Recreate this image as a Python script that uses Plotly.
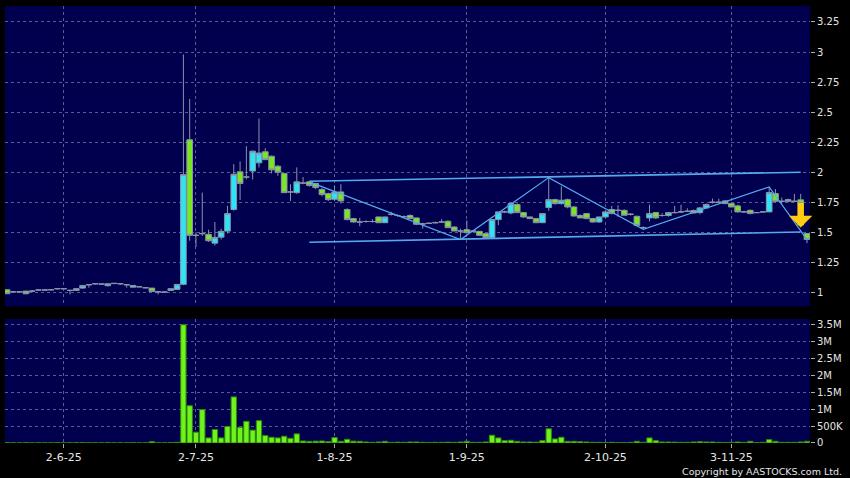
import pandas as pd
import plotly.graph_objects as go

# HK trading days (exchange holidays removed)
hk_holidays = ['2025-07-01', '2025-10-01', '2025-10-07', '2025-10-29']
dates = pd.bdate_range('2025-05-20', '2025-11-19', freq='C',
                       holidays=hk_holidays).strftime('%Y-%m-%d').tolist()

opens = [
    1.022, 1.005, 1.005, 1.011, 1.011, 1.02, 1.02, 1.022, 1.031, 1.031,
    1.017, 1.017, 1.036, 1.064, 1.072, 1.07, 1.056, 1.075, 1.072, 1.064,
    1.044, 1.047, 1.039, 1.036, 1.005, 1.003, 1.017, 1.025, 1.067, 2.27,
    1.475, 1.489, 1.483, 1.41, 1.46, 1.51, 1.69, 2.003, 1.96, 2.01,
    2.078, 2.17, 2.133, 2.05, 1.99, 1.836, 1.83, 1.91, 1.92, 1.906,
    1.856, 1.822, 1.775, 1.836, 1.69, 1.614, 1.586, 1.59, 1.59, 1.628,
    1.58, 1.65, 1.64, 1.63, 1.64, 1.62, 1.57, 1.575, 1.58, 1.586,
    1.592, 1.544, 1.511, 1.522, 1.51, 1.508, 1.489, 1.456, 1.606, 1.67,
    1.661, 1.731, 1.664, 1.628, 1.614, 1.58, 1.706, 1.772, 1.739, 1.772,
    1.711, 1.64, 1.656, 1.614, 1.586, 1.628, 1.69, 1.683, 1.683, 1.65,
    1.633, 1.54, 1.62, 1.664, 1.64, 1.64, 1.664, 1.67, 1.675, 1.681,
    1.664, 1.703, 1.75, 1.75, 1.761, 1.739, 1.72, 1.67, 1.683, 1.664,
    1.67, 1.67, 1.822, 1.758, 1.758, 1.758, 1.77, 1.49,
]
highs = [
    1.025, 1.008, 1.011, 1.011, 1.02, 1.022, 1.025, 1.025, 1.036, 1.036,
    1.022, 1.033, 1.058, 1.067, 1.075, 1.072, 1.075, 1.078, 1.075, 1.067,
    1.058, 1.05, 1.044, 1.036, 1.008, 1.008, 1.031, 1.067, 2.98, 2.61,
    1.5, 1.83, 1.522, 1.586, 1.53, 1.72, 2.067, 2.09, 2.217, 2.18,
    2.447, 2.2, 2.14, 2.06, 1.99, 1.9, 2.04, 1.96, 1.93, 1.91,
    1.87, 1.83, 1.89, 1.9, 1.7, 1.62, 1.62, 1.6, 1.61, 1.63,
    1.63, 1.67, 1.65, 1.64, 1.65, 1.62, 1.58, 1.58, 1.59, 1.61,
    1.6, 1.55, 1.53, 1.6, 1.52, 1.51, 1.49, 1.61, 1.67, 1.68,
    1.75, 1.74, 1.67, 1.63, 1.62, 1.66, 1.956, 1.78, 1.883, 1.78,
    1.72, 1.65, 1.66, 1.62, 1.63, 1.68, 1.72, 1.725, 1.69, 1.66,
    1.64, 1.55, 1.73, 1.67, 1.66, 1.67, 1.72, 1.73, 1.7, 1.69,
    1.71, 1.74, 1.78, 1.78, 1.77, 1.74, 1.73, 1.68, 1.69, 1.67,
    1.675, 1.878, 1.86, 1.79, 1.78, 1.82, 1.82, 1.49,
]
lows = [
    0.989, 1.0, 1.0, 0.985, 1.0, 1.014, 1.017, 1.017, 1.025, 1.028,
    0.983, 1.014, 1.031, 1.04, 1.064, 1.064, 1.05, 1.067, 1.064, 1.04,
    1.04, 1.042, 1.033, 1.005, 0.983, 1.0, 1.014, 1.022, 1.06, 1.43,
    1.38, 1.47, 1.42, 1.39, 1.44, 1.49, 1.68, 1.77, 1.94, 1.94,
    2.04, 2.1, 1.99, 1.97, 1.83, 1.76, 1.82, 1.9, 1.88, 1.86,
    1.8, 1.76, 1.76, 1.74, 1.6, 1.58, 1.55, 1.58, 1.58, 1.58,
    1.58, 1.64, 1.63, 1.62, 1.61, 1.56, 1.53, 1.57, 1.575, 1.58,
    1.535, 1.51, 1.45, 1.49, 1.5, 1.47, 1.45, 1.45, 1.56, 1.66,
    1.65, 1.66, 1.62, 1.61, 1.58, 1.58, 1.68, 1.73, 1.73, 1.7,
    1.63, 1.62, 1.61, 1.58, 1.58, 1.62, 1.65, 1.628, 1.64, 1.64,
    1.55, 1.525, 1.59, 1.61, 1.63, 1.63, 1.66, 1.66, 1.67, 1.66,
    1.65, 1.7, 1.74, 1.745, 1.735, 1.71, 1.665, 1.665, 1.65, 1.66,
    1.665, 1.67, 1.75, 1.74, 1.75, 1.75, 1.735, 1.41,
]
closes = [
    0.989, 1.005, 1.005, 0.989, 1.011, 1.02, 1.02, 1.022, 1.031, 1.031,
    1.017, 1.031, 1.058, 1.064, 1.072, 1.07, 1.072, 1.075, 1.072, 1.064,
    1.058, 1.047, 1.039, 1.008, 1.005, 1.003, 1.031, 1.067, 1.98, 1.475,
    1.475, 1.489, 1.43, 1.458, 1.508, 1.656, 1.983, 1.906, 1.96, 2.175,
    2.16, 2.105, 2.02, 2.0, 1.83, 1.836, 1.92, 1.91, 1.89, 1.872,
    1.814, 1.772, 1.836, 1.761, 1.606, 1.586, 1.586, 1.59, 1.59, 1.58,
    1.628, 1.65, 1.64, 1.63, 1.614, 1.567, 1.57, 1.575, 1.58, 1.586,
    1.539, 1.511, 1.511, 1.497, 1.51, 1.475, 1.456, 1.606, 1.67, 1.67,
    1.739, 1.664, 1.628, 1.614, 1.58, 1.656, 1.772, 1.739, 1.767, 1.711,
    1.636, 1.62, 1.614, 1.586, 1.628, 1.67, 1.656, 1.683, 1.642, 1.65,
    1.558, 1.54, 1.656, 1.62, 1.64, 1.664, 1.664, 1.67, 1.675, 1.661,
    1.703, 1.731, 1.75, 1.75, 1.739, 1.711, 1.67, 1.67, 1.656, 1.664,
    1.67, 1.831, 1.758, 1.758, 1.772, 1.758, 1.739, 1.44,
]
# volume in millions of shares
volume_m = [
    0.012, 0.004, 0.005, 0.010, 0.004, 0.006, 0.004, 0.005, 0.008, 0.004,
    0.006, 0.010, 0.012, 0.006, 0.005, 0.004, 0.008, 0.004, 0.005, 0.006,
    0.008, 0.004, 0.005, 0.040, 0.008, 0.005, 0.012, 0.020, 3.49, 1.10,
    0.32, 0.985, 0.15, 0.40, 0.15, 0.49, 1.36, 0.46, 0.64, 0.38,
    0.66, 0.22, 0.17, 0.15, 0.20, 0.14, 0.27, 0.06, 0.05, 0.055,
    0.06, 0.04, 0.16, 0.05, 0.11, 0.055, 0.05, 0.03, 0.02, 0.03,
    0.05, 0.02, 0.025, 0.02, 0.03, 0.03, 0.02, 0.015, 0.02, 0.02,
    0.025, 0.02, 0.03, 0.05, 0.02, 0.02, 0.03, 0.23, 0.15, 0.07,
    0.08, 0.05, 0.03, 0.03, 0.025, 0.07, 0.42, 0.12, 0.17, 0.05,
    0.05, 0.04, 0.03, 0.02, 0.02, 0.015, 0.02, 0.01, 0.015, 0.02,
    0.05, 0.02, 0.15, 0.07, 0.03, 0.03, 0.025, 0.02, 0.02, 0.03,
    0.04, 0.03, 0.03, 0.02, 0.015, 0.02, 0.03, 0.02, 0.05, 0.015,
    0.02, 0.10, 0.05, 0.02, 0.02, 0.02, 0.03, 0.05,
]
volume = [v * 1e6 for v in volume_m]

# drawn trend lines (date, price)
channel_top_dates = ['2025-07-28', '2025-11-18']
channel_top_prices = [1.925, 2.0]
channel_bot_dates = ['2025-07-28', '2025-11-18']
channel_bot_prices = [1.417, 1.503]
zigzag_dates = ['2025-07-28', '2025-08-29', '2025-09-18', '2025-10-13', '2025-11-11', '2025-11-19']
zigzag_prices = [1.92, 1.44, 1.955, 1.525, 1.878, 1.44]
signal_date, signal_price = '2025-11-18', 1.54

date_ticks = ['2025-06-02', '2025-07-02', '2025-08-01', '2025-09-01', '2025-10-02', '2025-11-03']
date_labels = ['2-6-25', '2-7-25', '1-8-25', '1-9-25', '2-10-25', '3-11-25']
vol_ticks = [0, 0.5e6, 1e6, 1.5e6, 2e6, 2.5e6, 3e6, 3.5e6]
vol_labels = ['0', '500K', '1M', '1.5M', '2M', '2.5M', '3M', '3.5M']

BG = '#00004f'
GRID = 'rgba(140,140,185,0.65)'
WICK = '#8a93a8'
TXT = '#e6e6e6'
TREND = '#55aaee'

fig = go.Figure()
fig.add_trace(go.Candlestick(
    x=dates, open=opens, high=highs, low=lows, close=closes,
    increasing=dict(line=dict(color=WICK, width=1), fillcolor='#2ee3f3'),
    decreasing=dict(line=dict(color=WICK, width=1), fillcolor='#78e622'),
    xaxis='x', yaxis='y', showlegend=False,
))
fig.add_trace(go.Scatter(x=channel_top_dates, y=channel_top_prices, mode='lines',
                         line=dict(color=TREND, width=1.6), xaxis='x', yaxis='y'))
fig.add_trace(go.Scatter(x=channel_bot_dates, y=channel_bot_prices, mode='lines',
                         line=dict(color=TREND, width=1.6), xaxis='x', yaxis='y'))
fig.add_trace(go.Scatter(x=zigzag_dates, y=zigzag_prices, mode='lines',
                         line=dict(color=TREND, width=1.2), xaxis='x', yaxis='y'))
fig.add_trace(go.Bar(
    x=dates, y=volume, marker=dict(color='#6ef31e', line=dict(color='#2e8a00', width=1)),
    xaxis='x2', yaxis='y2',
))

# yellow sell-signal arrow
fig.add_annotation(x=signal_date, y=signal_price, xref='x', yref='y', text='',
                   showarrow=True, ax=0, ay=-26, arrowhead=1, arrowsize=0.6,
                   arrowwidth=6.5, arrowcolor='#ffcc10', standoff=0)
fig.add_annotation(x=1, y=0, xref='paper', yref='paper', xanchor='right', yanchor='top',
                   xshift=34, yshift=-21, showarrow=False,
                   text='Copyright by AASTOCKS.com Ltd.',
                   font=dict(family='DejaVu Sans', size=9.5, color=TXT))

x_common = dict(type='category', range=[-0.32, len(dates) - 0.52],
                tickvals=date_ticks, ticktext=date_labels,
                showgrid=True, gridcolor=GRID, griddash='3px,3px', gridwidth=1,
                zeroline=False, showline=False)
fig.update_layout(
    width=850, height=478,
    paper_bgcolor='black', plot_bgcolor=BG,
    font=dict(family='DejaVu Sans', size=10, color=TXT),
    margin=dict(l=5, r=40, t=6, b=35),
    showlegend=False, bargap=0.15, boxgap=0.1, boxgroupgap=0,
    xaxis=dict(**x_common, domain=[0, 1], anchor='y', showticklabels=False,
               ticks='', rangeslider=dict(visible=False)),
    xaxis2=dict(**x_common, domain=[0, 1], anchor='y2', matches='x',
                ticks='outside', ticklen=4, tickcolor='#aaaaaa',
                tickfont=dict(size=11)),
    yaxis=dict(domain=[0.3124, 1], side='right', range=[0.883, 3.383],
               tick0=1, dtick=0.25, ticks='outside', ticklen=4, tickcolor='#aaaaaa',
               showgrid=True, gridcolor=GRID, griddash='3px,3px', zeroline=False),
    yaxis2=dict(domain=[0, 0.2838], side='right', range=[0, 3.66e6],
                tickvals=vol_ticks, ticktext=vol_labels,
                ticks='outside', ticklen=4, tickcolor='#aaaaaa',
                showgrid=True, gridcolor=GRID, griddash='3px,3px', zeroline=False),
)

fig.write_html("out.html", config={'displayModeBar': False},
               post_script="document.body.style.margin='0';document.body.style.background='black';")
